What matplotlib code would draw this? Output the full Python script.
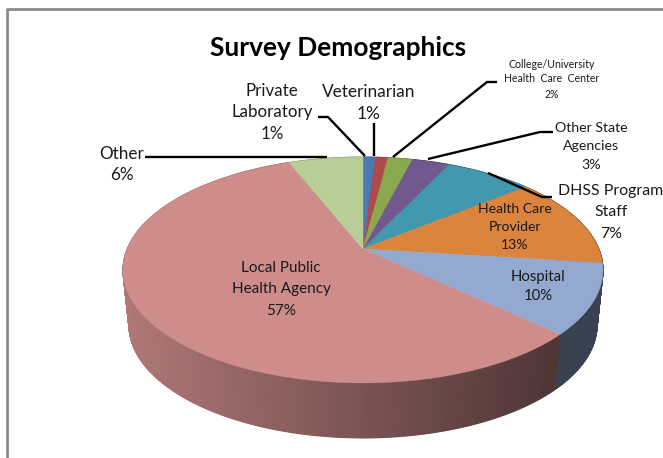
import numpy as np
import matplotlib
matplotlib.use('Agg')
import matplotlib.pyplot as plt

plt.rcParams['font.family'] = ['Lato', 'DejaVu Sans']

# clockwise from 12 o'clock
names = ['Private\nLaboratory', 'Veterinarian', 'College/University\nHealth  Care  Center',
         'Other State\nAgencies', 'DHSS Program\nStaff', 'Health Care\nProvider',
         'Hospital', 'Local Public\nHealth Agency', 'Other']
values = [1, 1, 2, 3, 7, 13, 10, 57, 6]
colors = ['#4a7ab2', '#b0494a', '#8aa84e', '#71588f', '#4198af',
          '#db843d', '#93a9cf', '#ce8d8b', '#b9cd96']

# label centre x, y of the first line, line gap, font size
label_x = [272, 369, 552, 591, 611, 515, 538, 281, 122]
label_y = [91, 92, 64, 128, 191, 209, 277, 268, 154]
label_gap = [21.5, 22, 15, 18.5, 21.5, 18, 19, 21.5, 21]
label_size = [12.2, 12.4, 7.6, 10.2, 11.4, 10.1, 10.7, 11, 12.3]

# leader lines: label end, elbow, point on the pie
leaders = [[(318, 117), (328, 117), (365, 156)],
           [(374, 123), (374, 156)],
           [(497, 82), (487, 82), (393, 157)],
           [(553, 132), (540, 132), (428, 159)],
           [(552, 197), (542, 197), (488, 173)],
           [(145, 157), (327, 157)]]

cx, cy = 363, 249      # where the slices meet
half_w = 235.8         # horizontal reach through the centre
half_h = 109
persp = 0.186
depth = 55
bottom_scale = 0.975


def project(theta, offset=0.0, scale=1.0):
    # theta clockwise from top, tilted disc with some perspective
    u, v = np.sin(theta), np.cos(theta)
    w = 1 + persp * v
    return cx + scale * half_w * u / w, cy - half_h * v / w + offset


def shade(x):
    return np.clip(0.85 - 0.47 * (x - 123) / (555 - 123), 0.39, 0.85)


fig = plt.figure(figsize=(6.63, 4.58), dpi=100)
ax = fig.add_axes([0, 0, 1, 1])
ax.set_xlim(0, 663)
ax.set_ylim(458, 0)
ax.axis('off')

# chart frame, only the top and left edges are in the crop
ax.plot([7, 7, 663], [458, 9, 9], color='#8c8c8c', lw=2.0, zorder=1)

edges = np.cumsum([0] + values) / sum(values) * 2 * np.pi

# side wall first, the top faces cover whatever is behind
for i, col in enumerate(colors):
    rgb = np.array(matplotlib.colors.to_rgb(col))
    steps = np.linspace(edges[i], edges[i + 1], max(2, values[i] * 8))
    for a, b in zip(steps[:-1], steps[1:]):
        x1, y1 = project(a)
        x2, y2 = project(b)
        x3, y3 = project(b, depth, bottom_scale)
        x4, y4 = project(a, depth, bottom_scale)
        c = rgb * shade((x1 + x2) / 2)
        ax.fill([x1, x2, x3, x4], [y1, y2, y3, y4], color=c, lw=0.8, zorder=2)

for i, col in enumerate(colors):
    t = np.linspace(edges[i], edges[i + 1], max(4, values[i] * 4))
    x, y = project(t)
    ax.fill(np.r_[cx, x], np.r_[cy, y], color=col, lw=0.3, zorder=3)

for pts in leaders:
    xs, ys = zip(*pts)
    ax.plot(xs, ys, color='black', lw=1.7, solid_capstyle='butt', zorder=4)

for i, name in enumerate(names):
    lines = name.split('\n') + ['%d%%' % values[i]]
    for j, line in enumerate(lines):
        ax.text(label_x[i], label_y[i] + j * label_gap[i], line, ha='center', va='center',
                fontsize=label_size[i], color='#1a1a1a', zorder=5)

ax.text(338, 48, 'Survey Demographics', ha='center', va='center',
        fontsize=18.9, fontweight='bold', color='black', zorder=5)

fig.savefig('out.png', dpi=100)
